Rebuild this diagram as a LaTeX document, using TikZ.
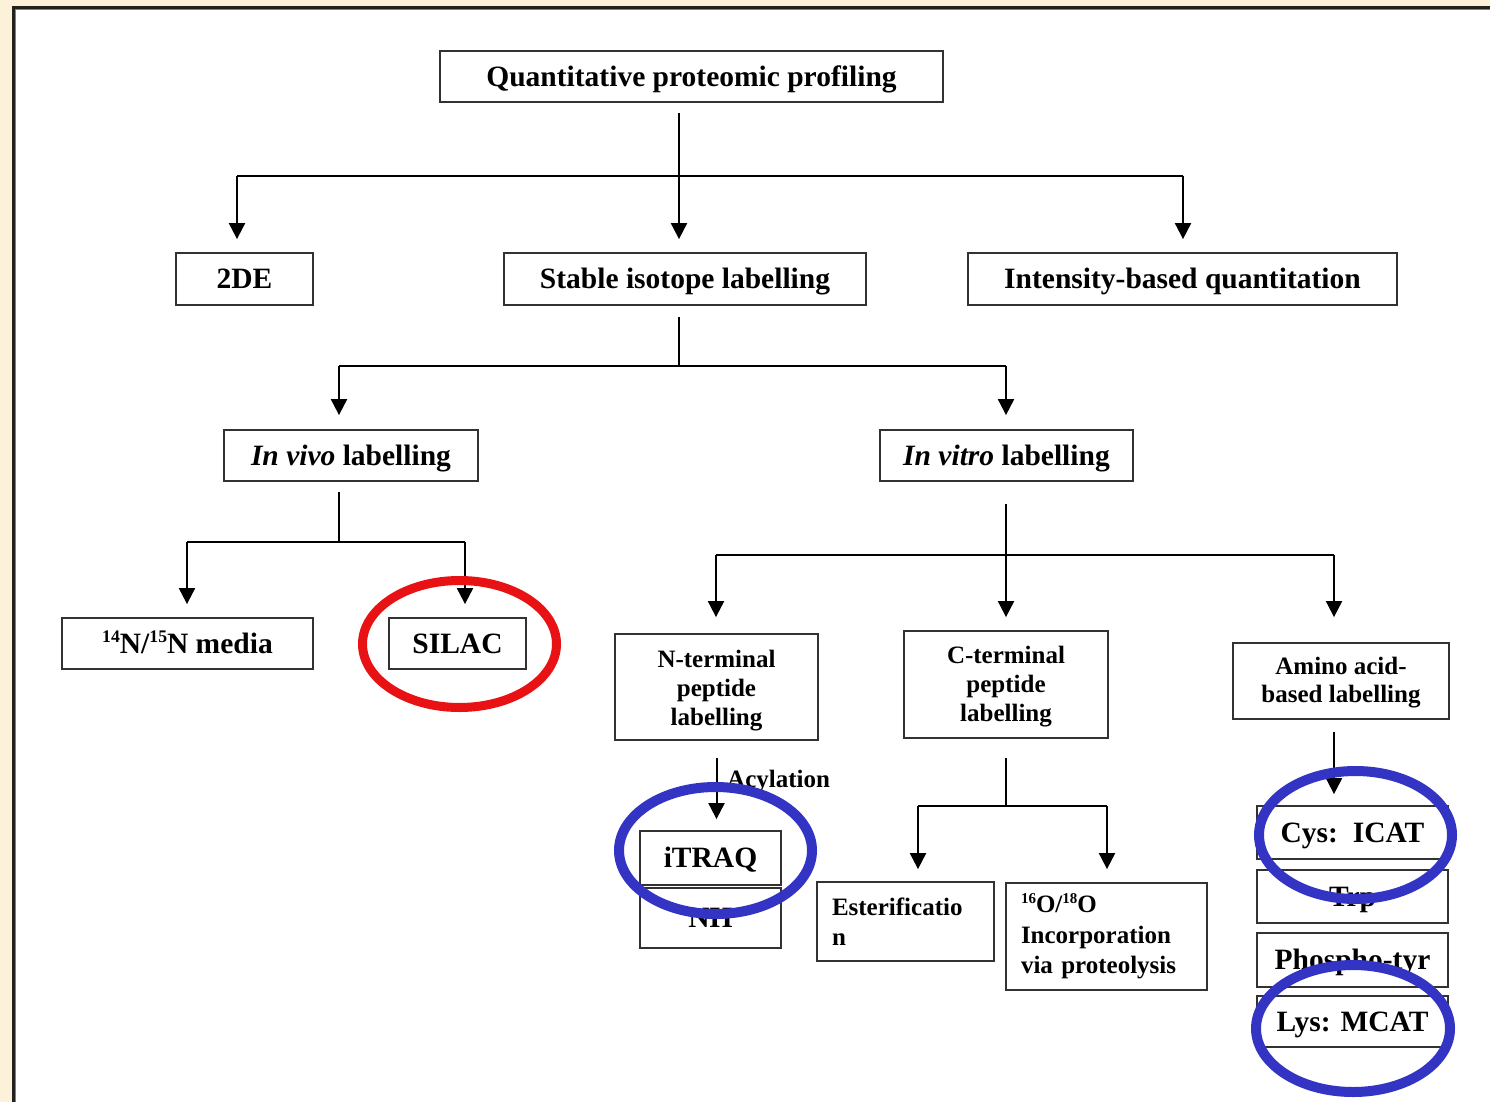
\documentclass[tikz,border=0pt]{standalone}
\usepackage{fontspec}
\setmainfont{Liberation Serif}
\usetikzlibrary{arrows.meta,calc}
\definecolor{paper}{RGB}{252,242,218}
\definecolor{framecol}{RGB}{35,32,32}
\definecolor{boxline}{RGB}{50,50,50}
\definecolor{ringred}{RGB}{232,18,20}
\definecolor{ringblue}{RGB}{52,52,196}
\newcommand\fbig{\fontsize{29.5}{34}\selectfont\bfseries}
\newcommand\fsmall{\fontsize{25}{28.5}\selectfont\bfseries}
% small raised isotope numbers
\newcommand\isot[1]{\raisebox{0.36em}{\scalebox{0.6}{#1}}}

\begin{document}
\begin{tikzpicture}[x=1pt,y=-1pt,
  box/.style={draw=boxline, line width=1.8pt, inner sep=0pt, font=\fbig,
    text height=19.5pt, text depth=0pt},
  mbox/.style={draw=boxline, line width=1.8pt, inner sep=0pt, font=\fsmall, align=center},
  lbox/.style={draw=boxline, line width=1.8pt, inner xsep=15pt, inner ysep=0pt,
    font=\fsmall, align=left},
  tag/.style={inner sep=0pt, font=\fsmall, text height=16.5pt, text depth=0pt},
  conn/.style={line width=2pt, black},
  arr/.style={conn, -{Triangle[width=16pt,length=16pt]}},
  ring/.style={line width=10pt},
]
\useasboundingbox (0,0) rectangle (1490,1102);

% page and frame
\fill[paper] (0,0) rectangle (1490,1102);
\fill[white] (13,8) rectangle (1490,1102);
\draw[framecol, line width=3pt] (13,1102) -- (13,7.5) -- (1490,7.5);
\draw[gray, line width=1pt] (15,1102) -- (15,9.5) -- (1490,9.5);

% boxes
\node[box, minimum width=503pt, minimum height=51pt] (quant) at (691.5,76.5) {Quantitative proteomic profiling};
\node[box, minimum width=137pt, minimum height=52pt] (twode) at (244.5,279) {2DE};
\node[box, minimum width=362pt, minimum height=52pt] (stable) at (685,279) {Stable isotope labelling};
\node[box, minimum width=429pt, minimum height=52pt] (intens) at (1182.5,279) {Intensity-based quantitation};
\node[box, minimum width=254pt, minimum height=51pt] (invivo) at (351,455.5) {\textit{In vivo} labelling};
\node[box, minimum width=253pt, minimum height=51pt] (invitro) at (1006.5,455.5) {\textit{In vitro} labelling};
\node[box, minimum width=251pt, minimum height=51pt] (media) at (187.5,643.5) {\isot{14}N/\isot{15}N media};
\node[box, minimum width=137pt, minimum height=51pt] (silac) at (457.5,643.5) {SILAC};
\node[mbox, minimum width=203pt, minimum height=106pt] (nterm) at (716.5,687) {\rule{0pt}{25pt}N-terminal\\[0.5pt]peptide\\[0.5pt]labelling};
\node[mbox, minimum width=204pt, minimum height=107pt] (cterm) at (1006,684.5) {\rule{0pt}{21pt}C-terminal\\[0.5pt]peptide\\[0.5pt]labelling};
\node[mbox, minimum width=216pt, minimum height=76pt] (amino) at (1341,681) {\rule{0pt}{21pt}Amino acid-\\based labelling};
\node[box, minimum width=141pt, minimum height=60pt] (nhs) at (710.5,918) {NH};
\node[box, minimum width=141pt, minimum height=54pt, fill=white] (itraq) at (710.5,858) {iTRAQ};
\node[lbox, text width=147pt, minimum height=79pt] (ester) at (905.5,921.5) {Esterificatio\\[1.5pt]n};
\node[lbox, text width=171pt, minimum height=107pt] (oxy) at (1106.5,936.5)
  {\isot{16}O/\isot{18}O\\[2pt]Incorporation\\[2pt]via proteolysis};
\node[box, minimum width=191pt, minimum height=53pt] (cys) at (1352.5,832.5) {Cys:\ \ ICAT};
\node[box, minimum width=191pt, minimum height=53pt] (trp) at (1352.5,896.5) {Trp};
\node[box, minimum width=191pt, minimum height=54pt] (phos) at (1352.5,960) {Phospho-tyr};
\node[box, minimum width=191pt, minimum height=51pt] (lys) at (1352.5,1021.5) {Lys: MCAT};

% bus points
\coordinate (b1) at (679,176);
\coordinate (b1l) at (237,176);
\coordinate (b1r) at (1183,176);
\coordinate (b2) at (679,366);
\coordinate (b2l) at (339,366);
\coordinate (b2r) at (1006,366);
\coordinate (b3) at (339,542);
\coordinate (b3l) at (187,542);
\coordinate (b3r) at (465,542);
\coordinate (b4) at (1006,555);
\coordinate (b4l) at (716,555);
\coordinate (b4r) at (1334,555);
\coordinate (b5) at (1006,806);
\coordinate (b5l) at (918,806);
\coordinate (b5r) at (1107,806);

% level 1
\draw[conn] ($(b1 |- quant.south)+(0,10)$) -- (b1);
\draw[conn] (b1l) -- (b1r);
\draw[arr] (b1l) -- ($(b1l |- twode.north)+(0,-13)$);
\draw[arr] (b1) -- ($(b1 |- stable.north)+(0,-13)$);
\draw[arr] (b1r) -- ($(b1r |- intens.north)+(0,-13)$);

% level 2
\draw[conn] ($(b2 |- stable.south)+(0,11)$) -- (b2);
\draw[conn] (b2l) -- (b2r);
\draw[arr] (b2l) -- ($(b2l |- invivo.north)+(0,-14)$);
\draw[arr] (b2r) -- ($(b2r |- invitro.north)+(0,-14)$);

% level 3, in vivo
\draw[conn] ($(b3 |- invivo.south)+(0,10)$) -- (b3);
\draw[conn] (b3l) -- (b3r);
\draw[arr] (b3l) -- ($(b3l |- media.north)+(0,-13)$);
\draw[arr] (b3r) -- ($(b3r |- silac.north)+(0,-13)$);

% level 3, in vitro
\draw[conn] ($(b4 |- invitro.south)+(0,22)$) -- (b4);
\draw[conn] (b4l) -- (b4r);
\draw[arr] (b4l) -- ($(b4l |- nterm.north)+(0,-16)$);
\draw[arr] (b4) -- ($(b4 |- cterm.north)+(0,-13)$);
\draw[arr] (b4r) -- ($(b4r |- amino.north)+(0,-25)$);

% level 4
\draw[arr] ($(nterm.south)+(0,17)$) -- ($(nterm.south |- itraq.north)+(0,-11)$);
\node[tag, anchor=west] (acyl) at (727,779.5) {Acylation};
\draw[conn] ($(b5 |- cterm.south)+(0,19)$) -- (b5);
\draw[conn] (b5l) -- (b5r);
\draw[arr] (b5l) -- ($(b5l |- ester.north)+(0,-12)$);
\draw[arr] (b5r) -- ($(b5r |- oxy.north)+(0,-13)$);
\draw[arr] ($(b4r |- amino.south)+(0,12)$) -- ($(b4r |- cys.north)+(0,-11)$);

% highlight rings
\draw[ringred, line width=9pt] (459.5,644) ellipse [x radius=97pt, y radius=63.5pt];
\draw[ringblue, ring] (715.5,850.5) ellipse [x radius=96.5pt, y radius=63.5pt];
\draw[ringblue, ring] (1355.5,835) ellipse [x radius=96.5pt, y radius=64pt];
\draw[ringblue, ring] (1353,1028.5) ellipse [x radius=97pt, y radius=63.5pt];
\end{tikzpicture}
\end{document}
